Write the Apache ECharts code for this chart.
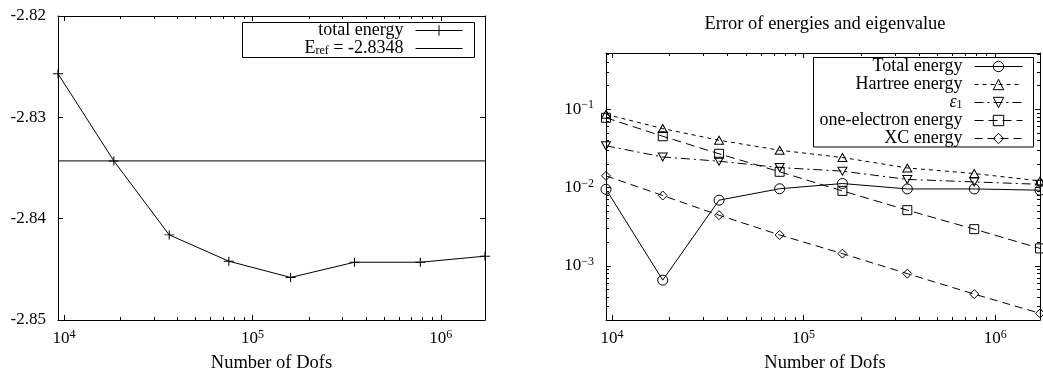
<!DOCTYPE html>
<html><head><meta charset="utf-8">
<script src="https://cdn.jsdelivr.net/npm/echarts@6/dist/echarts.min.js"></script>
<style>html,body{margin:0;padding:0;background:#fff}#c{width:1043px;height:374px}</style>
</head><body><div id="c"></div>
<script>
// ---- data ----
const dofs = [9300, 18400, 36200, 75000, 159500, 348000, 778000, 1715000];
const totalEnergy = [-2.8257, -2.8343, -2.8416, -2.8442, -2.8458, -2.8443, -2.8443, -2.8437];
const eRef = -2.8343;
const eRefLabel = '-2.8348';
const errTotal = [0.0095, 0.000656, 0.0069, 0.00966, 0.01126, 0.0096, 0.0096, 0.00925];
const errHartree = [0.0863, 0.0567, 0.0402, 0.0300, 0.0242, 0.0178, 0.0151, 0.01215];
const errEps1 = [0.0342, 0.0246, 0.0217, 0.0180, 0.0162, 0.0127, 0.0118, 0.0110];
const errOneElectron = [0.0779, 0.0452, 0.0270, 0.0159, 0.00906, 0.00514, 0.00294, 0.00167];
const errXC = [0.0141, 0.00791, 0.00443, 0.00248, 0.00143, 0.000794, 0.000435, 0.000247];
const leftYMin = -2.85, leftYMax = -2.82, leftYStep = 0.01;
const rightYMin = 0.000203, rightYMax = 0.524;
const xTitle = 'Number of Dofs';
const rightTitle = 'Error of energies and eigenvalue';

// ---- styling ----
const FONT = 'Liberation Serif';
const K = '#000';
const CLEAR = 'rgba(0,0,0,0)';
const pair = (ys) => dofs.map((x, i) => [x, ys[i]]);
function pow10Label(v) {
  const e = Math.log10(v), r = Math.round(e);
  if (Math.abs(e - r) > 1e-6) return '';
  return '{b|10}{s|' + (r < 0 ? '\u2212' + (-r) : r) + '}';
}
const powRich = {
  b: {fontFamily: FONT, fontSize: 17, color: K, lineHeight: 20},
  s: {fontFamily: FONT, fontSize: 12, color: K, lineHeight: 9, verticalAlign: 'top'}
};
const line = {show: true, onZero: false, lineStyle: {color: K, width: 1}};
const tick = {show: true, inside: true, length: 5, lineStyle: {color: K, width: 1}};
const minor = {show: true, splitNumber: 9, length: 3, lineStyle: {color: K, width: 1}};

function logX(grid, pos, labels) {
  return {
    type: 'log', logBase: 10, gridIndex: grid, position: pos,
    min: dofs[0], max: dofs[dofs.length - 1],
    axisLine: line, axisTick: tick, minorTick: minor, splitLine: {show: false},
    axisLabel: labels ? {formatter: pow10Label, margin: 9, rich: powRich} : {show: false}
  };
}
const plus = 'path://M0,5L10,5M5,0L5,10';
function errSeries(name, vals, symbol, size, dash, rotate) {
  return {
    type: 'line', name: name, xAxisIndex: 2, yAxisIndex: 2, data: pair(vals),
    symbol: symbol, symbolSize: size, symbolRotate: rotate || 0, showSymbol: true,
    lineStyle: {color: K, width: 1, type: dash},
    itemStyle: {color: CLEAR, borderColor: K, borderWidth: 1},
    emphasis: {disabled: true}, animation: false
  };
}
function label(x, y, text, size) {
  return {type: 'text', x: x, y: y, silent: true,
    style: {text: text, fill: K, font: size + 'px "' + FONT + '"', textAlign: 'center', textVerticalAlign: 'middle'}};
}
const legendItemStyle = {color: CLEAR, borderColor: K, borderWidth: 1};
const legendLine = {width: 1, color: K};
const LF = 18;

const option = {
  backgroundColor: '#fff',
  animation: false,
  grid: [
    {left: 58, top: 16, width: 427, height: 304},
    {left: 606, top: 53, right: 1, height: 267}
  ],
  xAxis: [logX(0, 'bottom', true), logX(0, 'top', false), logX(1, 'bottom', true), logX(1, 'top', false)],
  yAxis: [
    {type: 'value', gridIndex: 0, position: 'left', min: leftYMin, max: leftYMax, interval: leftYStep,
     axisLine: line, axisTick: tick, splitLine: {show: false},
     axisLabel: {margin: 12, fontFamily: FONT, fontSize: 17, color: K, formatter: v => v.toFixed(2)}},
    {type: 'value', gridIndex: 0, position: 'right', min: leftYMin, max: leftYMax, interval: leftYStep,
     axisLine: line, axisTick: tick, splitLine: {show: false}, axisLabel: {show: false}},
    {type: 'log', logBase: 10, gridIndex: 1, position: 'left', min: rightYMin, max: rightYMax,
     axisLine: line, axisTick: tick, minorTick: minor, splitLine: {show: false},
     axisLabel: {margin: 12, formatter: pow10Label, rich: powRich}},
    {type: 'log', logBase: 10, gridIndex: 1, position: 'right', min: rightYMin, max: rightYMax,
     axisLine: line, axisTick: tick, minorTick: minor, splitLine: {show: false}, axisLabel: {show: false}}
  ],
  legend: [
    {orient: 'vertical', align: 'right', right: 580, top: 21.5, padding: 0, itemGap: 0,
     itemWidth: 47, itemHeight: 13, selectedMode: false,
     itemStyle: legendItemStyle, lineStyle: legendLine,
     data: ['total energy', {name: 'Eref', itemStyle: {color: CLEAR, borderColor: CLEAR}}],
     formatter: n => n === 'Eref' ? '{n|E}{sub|ref}{n| = ' + eRefLabel + '}' : n,
     textStyle: {fontFamily: FONT, fontSize: LF, color: K, lineHeight: 17.5, padding: [0, 7, 0, 0],
       rich: {n: {fontFamily: FONT, fontSize: LF, color: K, lineHeight: 17.5},
              sub: {fontFamily: FONT, fontSize: 12, color: K, lineHeight: 8, verticalAlign: 'bottom'}}}},
    {orient: 'vertical', align: 'right', right: 20, top: 57.5, padding: 0, itemGap: 0,
     itemWidth: 48, itemHeight: 13, selectedMode: false,
     itemStyle: legendItemStyle, lineStyle: legendLine,
     data: ['Total energy', 'Hartree energy', 'eps1', 'one-electron energy', 'XC energy'],
     formatter: n => n === 'eps1' ? '{e|\u03b5}{sub|1}' : n,
     textStyle: {fontFamily: FONT, fontSize: LF, color: K, lineHeight: 17.5, padding: [0, 7, 0, 0],
       rich: {e: {fontFamily: FONT, fontSize: LF, fontStyle: 'italic', color: K, lineHeight: 17.5},
              sub: {fontFamily: FONT, fontSize: 12, color: K, lineHeight: 8, verticalAlign: 'bottom'}}}}
  ],
  graphic: [
    {type: 'rect', shape: {x: 242.5, y: 22.5, width: 232, height: 35}, style: {fill: 'none', stroke: K, lineWidth: 1}, silent: true},
    {type: 'rect', shape: {x: 813.5, y: 57.5, width: 220, height: 89.5}, style: {fill: 'none', stroke: K, lineWidth: 1}, silent: true},
    label(271.5, 363, xTitle, 18.5),
    label(825, 363, xTitle, 18.5),
    label(825, 24, rightTitle, 18.5)
  ],
  series: [
    {type: 'line', name: 'total energy', xAxisIndex: 0, yAxisIndex: 0, data: pair(totalEnergy),
     symbol: plus, symbolSize: [10, 9], showSymbol: true,
     lineStyle: {color: K, width: 1}, itemStyle: {color: K, borderColor: K, borderWidth: 1},
     emphasis: {disabled: true}},
    {type: 'line', name: 'Eref', xAxisIndex: 0, yAxisIndex: 0,
     data: [[dofs[0], eRef], [dofs[dofs.length - 1], eRef]], symbol: 'circle', showSymbol: false,
     lineStyle: {color: K, width: 1}, itemStyle: {color: K}, emphasis: {disabled: true}},
    errSeries('Total energy', errTotal, 'circle', 10, 'solid'),
    errSeries('Hartree energy', errHartree, 'triangle', [9, 8], [4, 4]),
    errSeries('eps1', errEps1, 'triangle', [9, 8], [9, 4, 2, 4], 180),
    errSeries('one-electron energy', errOneElectron, 'rect', 9, [9, 5]),
    errSeries('XC energy', errXC, 'diamond', 9, [8, 5])
  ]
};
const chart = echarts.init(document.getElementById('c'), null, {renderer: 'canvas'});
chart.setOption(option);
</script></body></html>
